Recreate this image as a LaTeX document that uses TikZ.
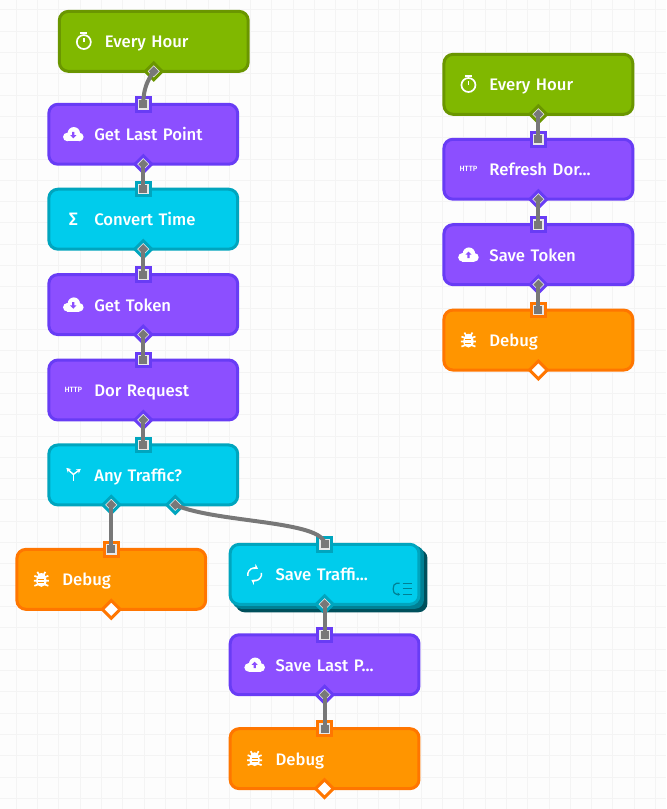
\documentclass[tikz,border=0pt]{standalone}
\usepackage{fontspec}
\setmainfont{Fira Sans Medium}
\usetikzlibrary{arrows.meta, shapes.geometric}
\definecolor{folha}{RGB}{128, 184, 0}
\definecolor{folhaEsc}{RGB}{106, 150, 0}
\definecolor{uva}{RGB}{140, 79, 255}
\definecolor{uvaEsc}{RGB}{104, 60, 245}
\definecolor{agua}{RGB}{0, 204, 236}
\definecolor{aguaEsc}{RGB}{0, 165, 190}
\definecolor{fogo}{RGB}{255, 149, 0}
\definecolor{fogoEsc}{RGB}{255, 118, 0}
\definecolor{tealA}{RGB}{0, 128, 148}
\definecolor{tealB}{RGB}{0, 80, 92}
\definecolor{fio}{RGB}{120, 120, 120}
\definecolor{pino}{RGB}{232, 232, 232}
\definecolor{grade}{RGB}{244, 244, 244}
\definecolor{fundo}{RGB}{253, 253, 253}
\tikzset{
  flowbox/.style={
    draw, line width=3pt, rounded corners=9pt, minimum width=189pt, minimum height=60pt,
    inner xsep=0pt, inner ysep=0pt, text width=189pt, align=left, text=white,
    text height=15pt, text depth=2pt,
    font=\fontsize{16.7}{20}\selectfont, execute at begin node={\hspace*{45.5pt}}
  },
  boxGreen/.style={flowbox, fill=folha, draw=folhaEsc},
  boxPurple/.style={flowbox, fill=uva, draw=uvaEsc},
  boxCyan/.style={flowbox, fill=agua, draw=aguaEsc},
  boxOrange/.style={flowbox, fill=fogo, draw=fogoEsc},
  boxLayer/.style={draw=none, rounded corners=9pt, minimum width=192pt, minimum height=63pt},
  portIn/.style={
    rectangle, draw=#1, fill=pino, line width=3pt, minimum size=13.5pt, inner sep=0pt,
    path picture={\fill[fio] ([shift={(-4,-4)}]path picture bounding box.center) rectangle +(8,8);}
  },
  portOut/.style={
    diamond, aspect=1, draw=#1, fill=pino, line width=3pt, minimum size=18pt, inner sep=0pt,
    path picture={\fill[fio] (path picture bounding box.center) +(-5,0) -- +(0,-5) -- +(5,0) -- +(0,5) -- cycle;}
  },
  portFree/.style={diamond, aspect=1, draw=#1, fill=white, line width=3pt, minimum size=19pt, inner sep=0pt},
  link/.style={draw=fio, line width=4pt},
  iconLine/.style={draw=white, line width=1.7pt},
  iconText/.style={text=white, inner sep=0pt},
  clockIcon/.pic={
    \draw[iconLine] (0,0.7) circle (7);
    \draw[iconLine] (-3.5,-8.5) -- (3.5,-8.5);
    \draw[iconLine] (0,0.7) -- (0,-3.5);
  },
  pics/cloudIcon/.style={code={
    \fill[white] (-6,2.7) circle (4.3);
    \fill[white] (6,2.7) circle (4.3);
    \fill[white] (0.5,-1) circle (6.2);
    \fill[white] (-6,0) rectangle (6,7);
    \fill[uva, yshift=-0.5pt, yscale=#1] (-1.1,-3) -- (1.1,-3) -- (1.1,0.4) -- (3.1,0.4) -- (0,3.6) -- (-3.1,0.4) -- (-1.1,0.4) -- cycle;
  }},
  bugIcon/.pic={
    \draw[iconLine] (-7,-3.5) -- (-3,-2) (7,-3.5) -- (3,-2) (-7.5,1.5) -- (7.5,1.5) (-7,6.5) -- (-3,5) (7,6.5) -- (3,5) (-4,-7.5) -- (-2,-4) (4,-7.5) -- (2,-4);
    \fill[white] (0,1.5) ellipse (5.2 and 6);
    \fill[white] (0,-3.5) ellipse (3.8 and 2.8);
    \draw[fogo, line width=0.9pt] (-3,-0.2) -- (3,-0.2) (-3,3.2) -- (3,3.2);
  },
  forkIcon/.pic={
    \draw[iconLine, line width=1.4pt] (0,6) -- (0,-0.5);
    \draw[iconLine, line width=1.4pt, -{Stealth[length=4.5pt,width=5pt]}] (0,-0.5) -- (-7,-7);
    \draw[iconLine, line width=1.4pt, -{Stealth[length=4.5pt,width=5pt]}] (0,-0.5) -- (7.5,-6);
  },
  loopIcon/.pic={
    \draw[iconLine, line width=1.4pt, -{Stealth[length=4.5pt,width=6pt]}] (-6.8,1.5) arc[start angle=190, end angle=60, x radius=6.8, y radius=-6.8];
    \draw[iconLine, line width=1.4pt, -{Stealth[length=4.5pt,width=6pt]}] (6.8,-1.5) arc[start angle=10, end angle=-120, x radius=6.8, y radius=-6.8];
  },
  stackIcon/.pic={
    \draw[tealA, line width=1.2pt] (8,-5.5) -- (17,-5.5) (8,0) -- (17,0) (8,5.5) -- (17,5.5);
    \draw[tealA, line width=1.2pt, -{Stealth[length=2.5pt,width=3.5pt]}] (5,-5.5) -- (2,-5.5) .. controls (-2.5,-5.5) and (-2.5,5.5) .. (2,5.5) -- (5.5,5.5);
  },
}
\begin{document}
\begin{tikzpicture}[x=1pt, y=-1pt]

\fill[fundo] (0,0) rectangle (666,809);
\foreach \gx in {0,...,30} {\draw[grade, line width=0.8pt] ({15.8+21.33*\gx},0) -- ({15.8+21.33*\gx},809);}
\foreach \gy in {0,...,37} {\draw[grade, line width=0.8pt] (0,{9.4+21.33*\gy}) -- (666,{9.4+21.33*\gy});}
\useasboundingbox (0,0) rectangle (666,809);

\node[boxGreen] (hourA) at (153.5,41) {Every Hour};
\node[boxPurple] (lastPoint) at (143,134) {Get Last Point};
\node[boxCyan] (convert) at (143,219) {Convert Time};
\node[boxPurple] (token) at (143,304.5) {Get Token};
\node[boxPurple] (dor) at (143,390) {Dor Request};
\node[boxCyan] (traffic) at (143,475) {Any Traffic?};
\node[boxOrange] (debugA) at (111,579.5) {Debug};
\node[boxLayer, fill=tealB] (saveBackB) at (331.5,581) {};
\node[boxLayer, fill=tealA] (saveBackA) at (328,577.5) {};
\node[boxCyan] (saveTraffic) at (324.5,574.5) {Save Traffi...};
\node[boxPurple] (saveLast) at (324.5,665) {Save Last P...};
\node[boxOrange] (debugB) at (324.5,759) {Debug};
\node[boxGreen] (hourB) at (538.5,84) {Every Hour};
\node[boxPurple] (refresh) at (538.5,169) {Refresh Dor...};
\node[boxPurple] (saveToken) at (538.5,254.5) {Save Token};
\node[boxOrange] (debugC) at (538.5,340) {Debug};

\pic at ([xshift=26pt]hourA.west) {clockIcon};
\pic at ([xshift=26pt]lastPoint.west) {cloudIcon=1};
\node[iconText, font=\fontsize{18}{20}\selectfont] (convertSigma) at ([xshift=26pt]convert.west) {Σ};
\pic at ([xshift=26pt]token.west) {cloudIcon=1};
\node[iconText, font=\fontsize{7.6}{8}\selectfont] (dorHttp) at ([xshift=26pt]dor.west) {HTTP};
\pic at ([xshift=26pt]traffic.west) {forkIcon};
\pic at ([xshift=26pt]debugA.west) {bugIcon};
\pic at ([xshift=26pt]saveTraffic.west) {loopIcon};
\pic at (394.5,589) {stackIcon};
\pic at ([xshift=26pt]saveLast.west) {cloudIcon=-1};
\pic at ([xshift=26pt]debugB.west) {bugIcon};
\pic at ([xshift=26pt]hourB.west) {clockIcon};
\node[iconText, font=\fontsize{7.6}{8}\selectfont] (refreshHttp) at ([xshift=26pt]refresh.west) {HTTP};
\pic at ([xshift=26pt]saveToken.west) {cloudIcon=-1};
\pic at ([xshift=26pt]debugC.west) {bugIcon};

\node[portOut=folhaEsc] (hourAout) at ([yshift=1.5pt]hourA.south) {};
\node[portIn=uvaEsc] (lastPointIn) at ([yshift=-1.5pt]lastPoint.north) {};
\node[portOut=uvaEsc] (lastPointOut) at ([yshift=1.5pt]lastPoint.south) {};
\node[portIn=aguaEsc] (convertIn) at ([yshift=-1.5pt]convert.north) {};
\node[portOut=aguaEsc] (convertOut) at ([yshift=1.5pt]convert.south) {};
\node[portIn=uvaEsc] (tokenIn) at ([yshift=-1.5pt]token.north) {};
\node[portOut=uvaEsc] (tokenOut) at ([yshift=1.5pt]token.south) {};
\node[portIn=uvaEsc] (dorIn) at ([yshift=-1.5pt]dor.north) {};
\node[portOut=uvaEsc] (dorOut) at ([yshift=1.5pt]dor.south) {};
\node[portIn=aguaEsc] (trafficIn) at ([yshift=-1.5pt]traffic.north) {};
\node[portOut=aguaEsc] (trafficYes) at ([xshift=-32pt, yshift=1.5pt]traffic.south) {};
\node[portOut=aguaEsc] (trafficNo) at ([xshift=32pt, yshift=1.5pt]traffic.south) {};
\node[portIn=fogoEsc] (debugAin) at ([yshift=-1.5pt]debugA.north) {};
\node[portFree=fogoEsc] (debugAout) at ([yshift=1.5pt]debugA.south) {};
\node[portIn=aguaEsc] (saveTrafficIn) at ([yshift=-1.5pt]saveTraffic.north) {};
\node[portOut=aguaEsc] (saveTrafficOut) at ([yshift=1.5pt]saveTraffic.south) {};
\node[portIn=uvaEsc] (saveLastIn) at ([yshift=-1.5pt]saveLast.north) {};
\node[portOut=uvaEsc] (saveLastOut) at ([yshift=1.5pt]saveLast.south) {};
\node[portIn=fogoEsc] (debugBin) at ([yshift=-1.5pt]debugB.north) {};
\node[portFree=fogoEsc] (debugBout) at ([yshift=1.5pt]debugB.south) {};
\node[portOut=folhaEsc] (hourBout) at ([yshift=1.5pt]hourB.south) {};
\node[portIn=uvaEsc] (refreshIn) at ([yshift=-1.5pt]refresh.north) {};
\node[portOut=uvaEsc] (refreshOut) at ([yshift=1.5pt]refresh.south) {};
\node[portIn=uvaEsc] (saveTokenIn) at ([yshift=-1.5pt]saveToken.north) {};
\node[portOut=uvaEsc] (saveTokenOut) at ([yshift=1.5pt]saveToken.south) {};
\node[portIn=fogoEsc] (debugCin) at ([yshift=-1.5pt]debugC.north) {};
\node[portFree=fogoEsc] (debugCout) at ([yshift=1.5pt]debugC.south) {};

\draw[link] (hourAout.center) .. controls +(-7,10) and +(0,-14) .. (lastPointIn.center);
\draw[link] (lastPointOut.center) -- (convertIn.center);
\draw[link] (convertOut.center) -- (tokenIn.center);
\draw[link] (tokenOut.center) -- (dorIn.center);
\draw[link] (dorOut.center) -- (trafficIn.center);
\draw[link] (trafficYes.center) -- (debugAin.center);
\draw[link] (trafficNo.center) .. controls +(40,18) and +(0,-24) .. (saveTrafficIn.center);
\draw[link] (saveTrafficOut.center) -- (saveLastIn.center);
\draw[link] (saveLastOut.center) -- (debugBin.center);
\draw[link] (hourBout.center) -- (refreshIn.center);
\draw[link] (refreshOut.center) -- (saveTokenIn.center);
\draw[link] (saveTokenOut.center) -- (debugCin.center);

\end{tikzpicture}
\end{document}
